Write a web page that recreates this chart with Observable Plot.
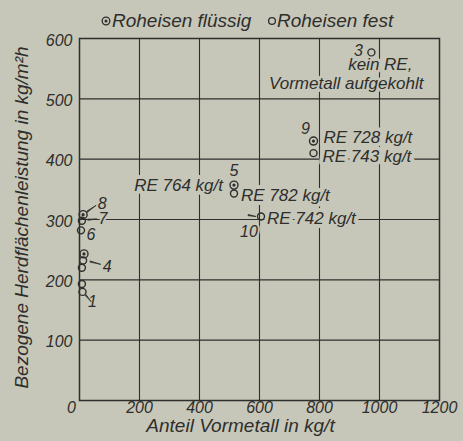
<!DOCTYPE html>
<html><head><meta charset="utf-8">
<script src="https://cdn.jsdelivr.net/npm/d3@7"></script>
<script src="https://cdn.jsdelivr.net/npm/@observablehq/plot@0.6"></script>
<style>
html,body{margin:0;padding:0;background:#c6c7b9;}
#legend,#chart svg{display:block;}
svg text{font-style:italic;}
</style></head><body>
<svg id="legend" width="463" height="32"></svg>
<div id="chart"></div>
<script>
// ---- data ----
const xTicks = [0, 200, 400, 600, 800, 1000, 1200];
const yTicks = [100, 200, 300, 400, 500, 600];
const legendLabels = ["Roheisen flüssig", "Roheisen fest"];
// Roheisen flüssig (◎)
const fluessigVormetall = [12, 15, 515, 780];
const fluessigLeistung  = [308, 243, 357, 430];
// Roheisen fest (○)
const festVormetall = [8, 5, 12, 8, 8, 10, 515, 780, 605, 973];
const festLeistung  = [298, 282, 232, 220, 193, 180, 343, 410, 305, 577];
// annotations (text and the point each one belongs to)
const labelText = ["8", "7", "6", "4", "1", "5", "9", "10", "3",
  "RE 728 kg/t", "RE 743 kg/t", "RE 764 kg/t", "RE 782 kg/t", "RE 742 kg/t",
  "kein RE,", "Vormetall aufgekohlt"];
const labelVormetall = [12, 8, 5, 12, 10, 515, 780, 605, 973, 780, 780, 515, 515, 605, 973, 973];
const labelLeistung  = [308, 298, 282, 232, 180, 357, 430, 305, 577, 430, 410, 357, 343, 305, 577, 577];
// leader lines belong to these points
const leaderVormetall = [12, 8, 12, 10, 605];
const leaderLeistung  = [308, 298, 232, 180, 305];
const xLabel = "Anteil Vormetall in kg/t";
const yLabel = "Bezogene Herdflächenleistung in kg/m²h";

// ---- styles ----
const ink = "#2e2e2c";
const bg = "#c6c7b9";
const font = "'Liberation Sans', Arial, sans-serif";
// [dx, dy, textAnchor, halo, fontSize] per label
const labelStyle = [
  [19, -11, "middle", 4, 16], [21, -2, "middle", 4, 16], [10, 5, "middle", 4, 16], [24, 6, "middle", 4, 16], [10, 10, "middle", 4, 16],
  [0, -14, "middle", 4, 16], [-8, -12, "middle", 4, 16], [-12, 15, "middle", 4, 16], [-13, -2, "middle", 4, 16],
  [10, -4, "start", 8, 17], [9, 3, "start", 8, 17], [-11, 0, "end", 8, 17], [7, 2, "start", 8, 17], [6, 2, "start", 8, 17],
  [41, 12, "end", 6, 17], [52, 31, "end", 6, 17]
];
// [dx, dy, rotate, length, anchor] per leader
const leaderStyle = [
  [4, -3, 55, 11, "start"], [6, -1, 85, 9, "start"], [7, 1, 105, 11, "start"],
  [3, 3, 140, 9, "start"], [-5, 0, 100, 8, "end"]
];

const fl = fluessigVormetall.map((x, i) => ({x, y: fluessigLeistung[i]}));
const fe = festVormetall.map((x, i) => ({x, y: festLeistung[i]}));
const labels = labelText.map((t, i) => ({t, x: labelVormetall[i], y: labelLeistung[i]}));
const leaders = leaderVormetall.map((x, i) => ({x, y: leaderLeistung[i]}));

const labelMarks = labels.map((d, i) => {
  const [dx, dy, anchor, halo, size] = labelStyle[i];
  return Plot.text([d], {x: "x", y: "y", text: "t", dx, dy, textAnchor: anchor,
    fontSize: size, fill: ink, stroke: bg, strokeWidth: halo, paintOrder: "stroke"});
});
const leaderMarks = leaders.map((d, i) => {
  const [dx, dy, rotate, length, anchor] = leaderStyle[i];
  return Plot.vector([d], {x: "x", y: "y", dx, dy, rotate, length, anchor,
    shape: "spike", r: 0.6, fill: ink, stroke: ink, strokeWidth: 0.7});
});

const fmt = d => String(d);

const chart = Plot.plot({
  width: 463, height: 409,
  marginLeft: 79, marginRight: 24, marginTop: 6, marginBottom: 41,
  style: {fontFamily: font, background: bg, color: ink},
  x: {domain: [0, 1200], label: null},
  y: {domain: [0, 600], label: null},
  marks: [
    Plot.gridX(xTicks.filter(t => t > 0 && t < 1200), {stroke: ink, strokeOpacity: 1, strokeWidth: 1.1}),
    Plot.gridY(yTicks.filter(t => t < 600), {stroke: ink, strokeOpacity: 1, strokeWidth: 1.1}),
    Plot.frame({stroke: ink, strokeWidth: 1.5}),
    Plot.axisX(xTicks.filter(t => t > 0), {tickSize: 0, tickPadding: 1, fontSize: 16, fill: ink, label: null, tickFormat: fmt}),
    Plot.axisX(xTicks.filter(t => t === 0), {tickSize: 0, tickPadding: 1, fontSize: 16, fill: ink, label: null, dx: -8, tickFormat: fmt}),
    Plot.axisY(yTicks, {tickSize: 0, tickPadding: 7, fontSize: 16, fill: ink, label: null, dy: 2, tickFormat: fmt}),
    Plot.text([xLabel], {frameAnchor: "bottom", lineAnchor: "middle", textAnchor: "middle", dx: -19, dy: 25, fontSize: 19, fill: ink}),
    Plot.text([yLabel], {frameAnchor: "left", lineAnchor: "middle", textAnchor: "middle", rotate: -90, dx: -58, dy: -2, fontSize: 19, fill: ink}),
    ...labelMarks,
    ...leaderMarks,
    Plot.dot(fe, {x: "x", y: "y", r: 3.5, stroke: ink, strokeWidth: 1.4, fill: "none"}),
    Plot.dot(fl, {x: "x", y: "y", r: 4, stroke: ink, strokeWidth: 1.4, fill: "none"}),
    Plot.dot(fl, {x: "x", y: "y", r: 1.6, fill: ink})
  ]
});
document.getElementById("chart").appendChild(chart);

// legend above the plot
const lg = d3.select("#legend");
lg.append("circle").attr("cx", 106).attr("cy", 21).attr("r", 3.8).attr("fill", "none").attr("stroke", ink).attr("stroke-width", 1.3);
lg.append("circle").attr("cx", 106).attr("cy", 21).attr("r", 1.5).attr("fill", ink);
lg.append("text").attr("x", 112).attr("y", 27).text(legendLabels[0])
  .attr("font-family", font).attr("font-size", 19).attr("fill", ink);
lg.append("circle").attr("cx", 272).attr("cy", 21).attr("r", 3.4).attr("fill", "none").attr("stroke", ink).attr("stroke-width", 1.3);
lg.append("text").attr("x", 277).attr("y", 27).text(legendLabels[1])
  .attr("font-family", font).attr("font-size", 19).attr("fill", ink);
</script></body></html>
